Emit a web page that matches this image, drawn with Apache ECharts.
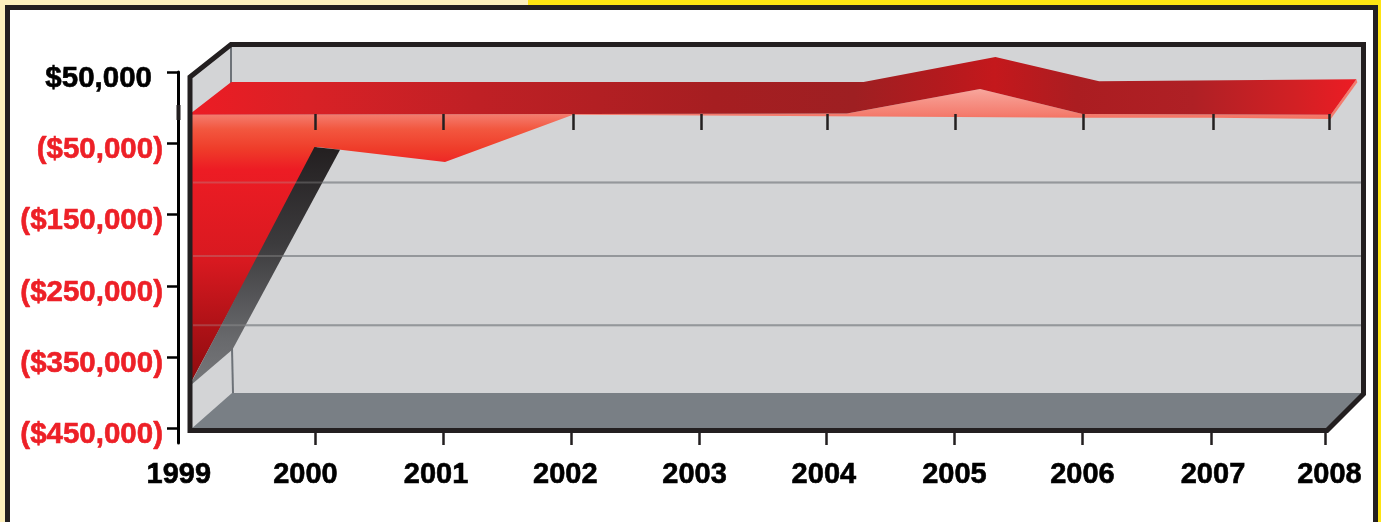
<!DOCTYPE html>
<html lang="en">

<head>
    <meta charset="UTF-8">
    <title>Net income 1999-2008</title>
    <style>
        html,
        body {
            width: 100%;
            height: 100%;
            margin: 0;
            padding: 0;
            overflow: hidden;
            background-color: #ffe512;
        }

        /* pale part of the page strip and the black card border */
        #strip {
            position: absolute;
            left: 0;
            top: 0;
            width: 528px;
            height: 522px;
            background-color: #fdf0bd;
        }

        #card {
            position: absolute;
            left: 5px;
            top: 5px;
            width: 1363px;
            height: 517px;
            background-color: #fff;
            border: solid #231f20;
            border-width: 5px 5px 0 5px;
        }

        #main {
            position: absolute;
            left: 0;
            top: 0;
            width: 1381px;
            height: 522px;
        }
    </style>
    <script src="https://cdn.jsdelivr.net/npm/echarts@6/dist/echarts.min.js"></script>
</head>

<body>
    <div id="strip"></div>
    <div id="card"></div>
    <div id="main"></div>
    <script>
        var yearLabels = ['1999', '2000', '2001', '2002', '2003', '2004', '2005', '2006', '2007', '2008'];
        var yearLabelX = [1998.92, 1999.91, 2000.93, 2001.94, 2002.95, 2003.96, 2004.98, 2005.98, 2007, 2007.91];
        var innerTickX = [1999.99, 2000.99, 2002, 2003, 2003.99, 2004.99, 2005.99, 2007, 2007.91];
        var outerTickX = [1999.99, 2000.99, 2001.99, 2002.99, 2003.98, 2004.98, 2005.98, 2006.99, 2007.88];
        var yTicks = [50000, -50000, -150000, -250000, -350000, -450000];
        var gridValues = [-105000, -208000, -305000];

        // lower edge of the red front face
        var faceX = [1999, 2000, 2001, 2002, 2003, 2004, 2005, 2006, 2007, 2007.92];
        var faceValues = [-390000, -55000, -76000, -10000, -11000, -12000, -13000, -14000, -14000, -16000];

        // front and back edge of the ribbon lying on top
        var frontX = [1999, 2004.14, 2005.18, 2005.98, 2007.92];
        var frontValues = [-10000, -8000, 26000, -9000, -10000];
        var backX = [1999.33, 2004.27, 2005.3, 2006.11, 2008.12];
        var backValues = [36000, 36000, 71000, 37000, 40000];

        // dark side of the 1999-2000 drop
        var sideX = [1999.98, 2000.18, 1999.34, 1999];
        var sideValues = [-55000, -59000, -339000, -391000];

        var chart = echarts.init(document.getElementById('main'), null, { renderer: 'canvas' });

        function toPoints(api, xs, vals) {
            return xs.map(function (x, i) {
                return api.coord([x, vals[i]]);
            });
        }

        function polygon(points, fill) {
            return {
                type: 'polygon',
                shape: { points: points },
                style: { fill: fill }
            };
        }

        function vGrad(stops) {
            return new echarts.graphic.LinearGradient(0, 0, 0, 1, stops);
        }

        function hGrad(stops) {
            return new echarts.graphic.LinearGradient(0, 0, 1, 0, stops);
        }

        function line(x1, y1, x2, y2, color, width) {
            return {
                type: 'line',
                shape: { x1: x1, y1: y1, x2: x2, y2: y2 },
                style: { stroke: color, lineWidth: width }
            };
        }

        // back wall and floor of the box
        function renderWall() {
            return {
                type: 'group',
                children: [
                    polygon([[190, 77], [231, 45], [1363, 45], [1363, 394], [1327, 430], [190, 430]], '#d3d4d6'),
                    polygon([[190, 430], [232, 393], [1363, 393], [1327, 430]], '#797f85'),
                    line(231, 45, 231, 84, '#6d7278', 2),
                    line(232, 348, 233, 393, '#6d7278', 2)
                ]
            };
        }

        function renderGridLine(params, api) {
            var y = api.coord([1999, api.value(0)])[1];
            return line(193, y, 1362, y, '#8c9095', 2);
        }

        // same lines again, showing faintly through the red face
        function renderGridOverlay(params, api) {
            var y = api.coord([1999, api.value(0)])[1];
            return line(193, y, 1362, y, 'rgba(170,170,170,0.3)', 2);
        }

        function renderRibbon(params, api) {
            var faceTop = toPoints(api, frontX, frontValues);
            var faceBottom = toPoints(api, faceX, faceValues).reverse();
            var back = toPoints(api, backX, backValues);
            var last = back[back.length - 1];
            var frontLast = faceTop[faceTop.length - 1];
            var bottomLast = faceBottom[0];
            return {
                type: 'group',
                children: [
                    polygon(faceTop.concat(faceBottom), vGrad([
                        { offset: 0, color: '#f8a69c' },
                        { offset: 0.085, color: '#f47c6e' },
                        { offset: 0.135, color: '#f2573f' },
                        { offset: 0.2, color: '#ef3d2a' },
                        { offset: 0.27, color: '#ed1c24' },
                        { offset: 0.58, color: '#d81920' },
                        { offset: 0.81, color: '#ac1116' },
                        { offset: 1, color: '#8c0b0e' }
                    ])),
                    polygon(toPoints(api, sideX, sideValues), vGrad([
                        { offset: 0, color: '#231f20' },
                        { offset: 0.4, color: '#3c3b3d' },
                        { offset: 0.8, color: '#68696c' },
                        { offset: 1, color: '#77787b' }
                    ])),
                    // light sliver on the right end
                    polygon([last, [last[0] + 1, last[1] + 3], bottomLast, frontLast], '#f47c6e'),
                    polygon(back.concat(faceTop.slice().reverse()), hGrad([
                        { offset: 0, color: '#ed1c24' },
                        { offset: 0.1, color: '#d92126' },
                        { offset: 0.25, color: '#bf2025' },
                        { offset: 0.45, color: '#a61e21' },
                        { offset: 0.57, color: '#9e1f22' },
                        { offset: 0.64, color: '#b21a1e' },
                        { offset: 0.69, color: '#c4181c' },
                        { offset: 0.76, color: '#ab1d21' },
                        { offset: 0.86, color: '#af2025' },
                        { offset: 0.95, color: '#d32024' },
                        { offset: 1, color: '#ed1c24' }
                    ]))
                ]
            };
        }

        // heavy outline of the box, drawn over the ribbon
        function renderFrame() {
            return {
                type: 'group',
                children: [
                    {
                        type: 'polygon',
                        shape: { points: [[190, 77], [231, 44.5], [1363.5, 44.5], [1363.5, 394], [1327, 430.5], [190, 430.5]] },
                        style: { fill: 'none', stroke: '#231f20', lineWidth: 5, lineJoin: 'miter' }
                    },
                    line(178.5, 105, 178.5, 120, '#231f20', 4)
                ]
            };
        }

        var option = {
            animation: false,
            // axis starts half a year early so the shifted 1999 label stays in range
            grid: { left: 125, top: 72, width: 1248, height: 371 },
            xAxis: [
                {
                    type: 'value',
                    min: 1998.5,
                    max: 2008.25,
                    offset: 2,
                    z: 10,
                    splitLine: { show: false },
                    axisLine: { show: false, onZero: false },
                    axisTick: {
                        show: true,
                        inside: true,
                        length: 15,
                        customValues: outerTickX,
                        lineStyle: { color: '#231f20', width: 2.5 }
                    },
                    axisLabel: {
                        customValues: yearLabelX,
                        margin: 15,
                        color: '#000',
                        fontFamily: 'Liberation Sans',
                        fontWeight: 'bold',
                        fontSize: 29,
                        textBorderColor: '#000',
                        textBorderWidth: 0.6,
                        formatter: function (v) {
                            return yearLabels[yearLabelX.indexOf(v)];
                        }
                    }
                },
                {
                    type: 'value',
                    position: 'top',
                    min: 1998.5,
                    max: 2008.25,
                    offset: -58,
                    z: 10,
                    splitLine: { show: false },
                    axisLine: { show: false, onZero: false },
                    axisLabel: { show: false },
                    axisTick: {
                        show: true,
                        length: 16,
                        customValues: innerTickX,
                        lineStyle: { color: '#231f20', width: 2.5 }
                    }
                }
            ],
            yAxis: {
                type: 'value',
                min: -470000,
                max: 50000,
                offset: -53,
                splitLine: { show: false },
                axisLine: { show: true, onZero: false, lineStyle: { color: '#000', width: 3 } },
                axisTick: {
                    show: true,
                    length: 11,
                    customValues: yTicks,
                    lineStyle: { color: '#000', width: 2.5 }
                },
                axisLabel: {
                    customValues: yTicks,
                    margin: 15,
                    formatter: function (v) {
                        var txt = '$' + Math.abs(v).toLocaleString('en-US');
                        return v < 0 ? '{neg|(' + txt + ')}' : '{pos|' + txt + '}';
                    },
                    rich: {
                        pos: {
                            color: '#000',
                            fontFamily: 'Liberation Sans',
                            fontWeight: 'bold',
                            fontSize: 29.5,
                            textBorderColor: '#000',
                            textBorderWidth: 0.6,
                            padding: [13, 11, 0, 0]
                        },
                        neg: {
                            color: '#ed2027',
                            fontFamily: 'Liberation Sans',
                            fontWeight: 'bold',
                            fontSize: 29.5,
                            textBorderColor: '#ed2027',
                            textBorderWidth: 0.6,
                            padding: [13, 0, 0, 0]
                        }
                    }
                }
            },
            series: [
                { type: 'custom', z: 1, clip: false, silent: true, data: [0], renderItem: renderWall },
                { type: 'custom', z: 2, clip: false, silent: true, data: gridValues, encode: { y: 0 }, renderItem: renderGridLine },
                { type: 'custom', z: 3, clip: false, silent: true, data: [0], renderItem: renderRibbon },
                { type: 'custom', z: 4, clip: false, silent: true, data: gridValues, encode: { y: 0 }, renderItem: renderGridOverlay },
                { type: 'custom', z: 5, clip: false, silent: true, data: [0], renderItem: renderFrame }
            ]
        };

        chart.setOption(option);
    </script>
</body>

</html>
